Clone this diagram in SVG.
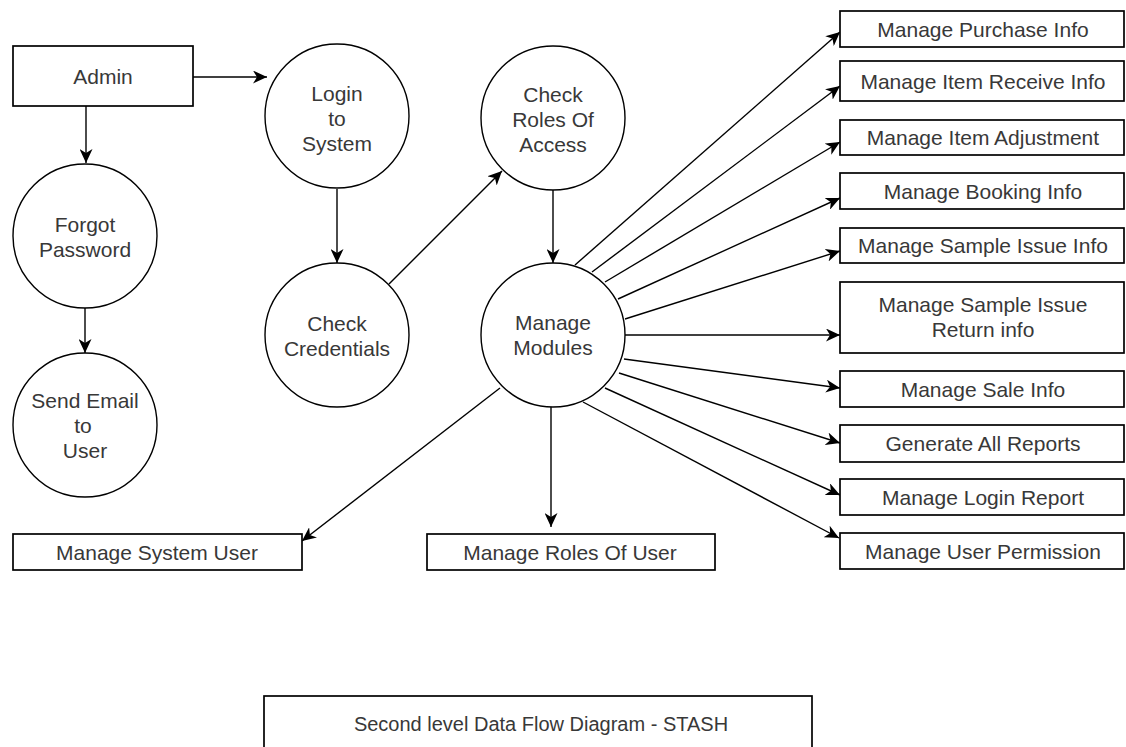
<svg xmlns="http://www.w3.org/2000/svg" width="1126" height="747" viewBox="0 0 1126 747">
  <style>
    .box { fill: #ffffff; stroke: #000000; stroke-width: 1.7; }
    .proc { fill: #ffffff; stroke: #000000; stroke-width: 1.4; }
    .lbl { font-family: "Liberation Sans", Arial, sans-serif; font-size: 21px; fill: #383838; text-anchor: middle; }
    .title { font-size: 20px; }
    .flow { fill: none; stroke: #000000; stroke-width: 1.4; marker-end: url(#arrow); }
  </style>
  <defs>
    <marker id="arrow" markerUnits="userSpaceOnUse" markerWidth="15" markerHeight="13" refX="14" refY="6.5" orient="auto">
      <path d="M0,0 L14,6.5 L0,13 L4,6.5 Z" fill="#000000"/>
    </marker>
  </defs>
  <rect width="1126" height="747" fill="#ffffff"/>

  <!-- data flows -->
  <g id="connectors">
    <line class="flow" x1="193" y1="77" x2="267" y2="77"/>
    <line class="flow" x1="86" y1="106" x2="86" y2="163"/>
    <line class="flow" x1="85" y1="308" x2="85" y2="353"/>
    <line class="flow" x1="337" y1="189" x2="337" y2="263"/>
    <line class="flow" x1="389" y1="284" x2="502" y2="171"/>
    <line class="flow" x1="553" y1="190" x2="553" y2="263"/>
    <line class="flow" x1="575" y1="265" x2="840" y2="32"/>
    <line class="flow" x1="592" y1="272" x2="840" y2="86"/>
    <line class="flow" x1="605" y1="282" x2="840" y2="142"/>
    <line class="flow" x1="618" y1="299" x2="840" y2="198"/>
    <line class="flow" x1="625" y1="319" x2="840" y2="251"/>
    <line class="flow" x1="624" y1="335" x2="840" y2="335"/>
    <line class="flow" x1="624" y1="359" x2="840" y2="388"/>
    <line class="flow" x1="619" y1="373" x2="840" y2="443"/>
    <line class="flow" x1="605" y1="388" x2="840" y2="495"/>
    <line class="flow" x1="583" y1="402" x2="839" y2="538"/>
    <line class="flow" x1="500" y1="388" x2="302" y2="541"/>
    <line class="flow" x1="551" y1="407" x2="551" y2="527"/>
  </g>

  <g id="admin">
    <rect class="box" x="13" y="46" width="180" height="60"/>
    <text class="lbl" x="103" y="83.5">Admin</text>
  </g>

  <g id="login-to-system">
    <circle class="proc" cx="337" cy="116" r="72"/>
    <text class="lbl" x="337" y="100.5">Login</text>
    <text class="lbl" x="337" y="125.5">to</text>
    <text class="lbl" x="337" y="150.5">System</text>
  </g>

  <g id="forgot-password">
    <circle class="proc" cx="85" cy="236" r="72"/>
    <text class="lbl" x="85" y="232">Forgot</text>
    <text class="lbl" x="85" y="257">Password</text>
  </g>

  <g id="send-email">
    <circle class="proc" cx="85" cy="425" r="72"/>
    <text class="lbl" x="85" y="408">Send Email</text>
    <text class="lbl" x="83" y="433">to</text>
    <text class="lbl" x="85" y="458">User</text>
  </g>

  <g id="check-credentials">
    <circle class="proc" cx="337" cy="335" r="72"/>
    <text class="lbl" x="337" y="331">Check</text>
    <text class="lbl" x="337" y="356">Credentials</text>
  </g>

  <g id="check-roles">
    <circle class="proc" cx="553" cy="118" r="72"/>
    <text class="lbl" x="553" y="102">Check</text>
    <text class="lbl" x="553" y="127">Roles Of</text>
    <text class="lbl" x="553" y="152">Access</text>
  </g>

  <g id="manage-modules">
    <circle class="proc" cx="553" cy="335" r="72"/>
    <text class="lbl" x="553" y="330">Manage</text>
    <text class="lbl" x="553" y="355">Modules</text>
  </g>

  <g id="purchase-info">
    <rect class="box" x="840" y="11" width="284" height="36"/>
    <text class="lbl" x="983" y="36.5">Manage Purchase Info</text>
  </g>
  <g id="item-receive-info">
    <rect class="box" x="840" y="61" width="284" height="40"/>
    <text class="lbl" x="983" y="88.5">Manage Item Receive Info</text>
  </g>
  <g id="item-adjustment">
    <rect class="box" x="840" y="120" width="284" height="35"/>
    <text class="lbl" x="983" y="145">Manage Item Adjustment</text>
  </g>
  <g id="booking-info">
    <rect class="box" x="840" y="173" width="284" height="36"/>
    <text class="lbl" x="983" y="198.5">Manage Booking Info</text>
  </g>
  <g id="sample-issue-info">
    <rect class="box" x="840" y="228" width="284" height="35"/>
    <text class="lbl" x="983" y="253">Manage Sample Issue Info</text>
  </g>
  <g id="sample-issue-return">
    <rect class="box" x="840" y="282" width="284" height="71"/>
    <text class="lbl" x="983" y="312">Manage Sample Issue</text>
    <text class="lbl" x="983" y="337">Return info</text>
  </g>
  <g id="sale-info">
    <rect class="box" x="840" y="371" width="284" height="36"/>
    <text class="lbl" x="983" y="396.5">Manage Sale Info</text>
  </g>
  <g id="all-reports">
    <rect class="box" x="840" y="425" width="284" height="37"/>
    <text class="lbl" x="983" y="451">Generate All Reports</text>
  </g>
  <g id="login-report">
    <rect class="box" x="840" y="479" width="284" height="36"/>
    <text class="lbl" x="983" y="504.5">Manage Login Report</text>
  </g>
  <g id="user-permission">
    <rect class="box" x="840" y="533" width="284" height="36"/>
    <text class="lbl" x="983" y="558.5">Manage User Permission</text>
  </g>

  <g id="system-user">
    <rect class="box" x="13" y="534" width="289" height="36"/>
    <text class="lbl" x="157" y="559.5">Manage System User</text>
  </g>
  <g id="roles-of-user">
    <rect class="box" x="427" y="534" width="288" height="36"/>
    <text class="lbl" x="570" y="559.5">Manage Roles Of User</text>
  </g>

  <g id="caption">
    <rect class="box" x="264" y="696" width="548" height="70"/>
    <text class="lbl title" x="541" y="731">Second level Data Flow Diagram - STASH</text>
  </g>
</svg>
